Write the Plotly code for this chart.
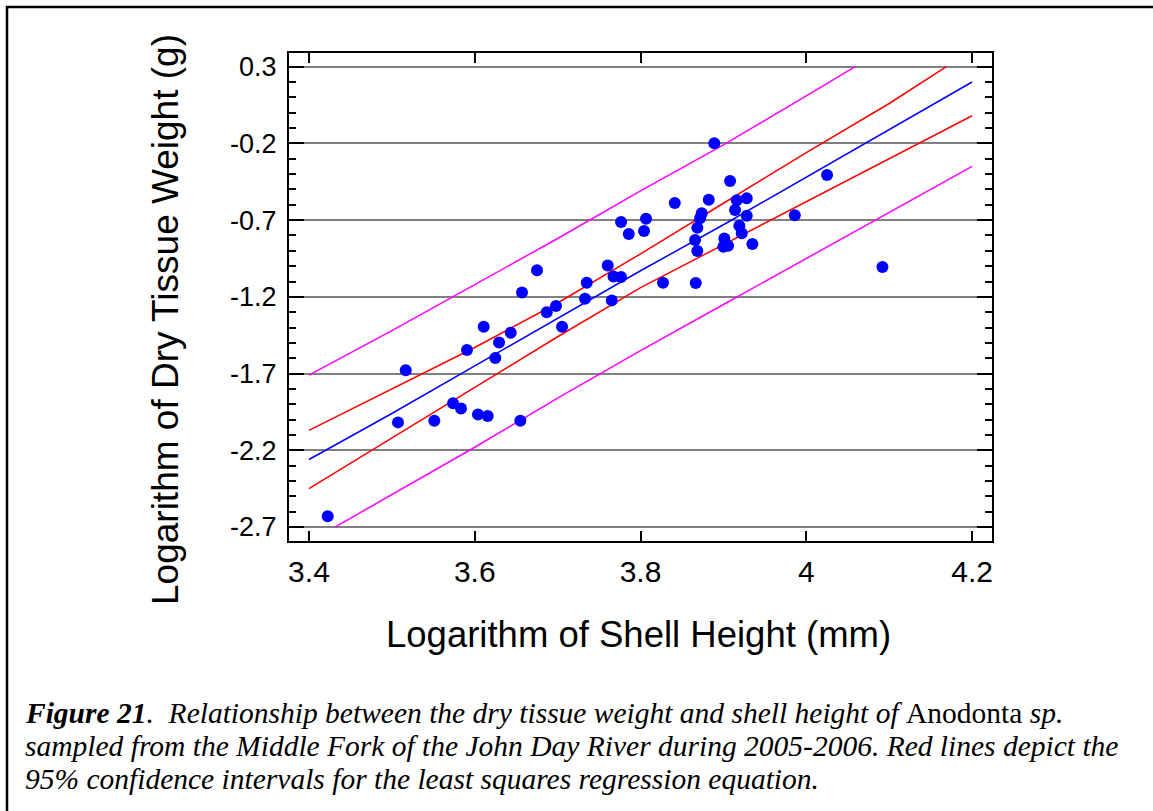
import plotly.graph_objects as go

# ---- data ----
shell_log = [3.4226, 3.5074, 3.5167, 3.5512, 3.5738, 3.5834, 3.5906, 3.6039, 3.6156, 3.6108,
             3.6248, 3.6293, 3.6434, 3.6550, 3.6570, 3.6751, 3.6868, 3.6980, 3.7053, 3.7330,
             3.7351, 3.7604, 3.7653, 3.7674, 3.7765, 3.7765, 3.7858, 3.8042, 3.8066, 3.8271,
             3.8413, 3.8658, 3.8666, 3.8685, 3.8685, 3.8718, 3.8738, 3.8823, 3.8890, 3.8999,
             3.9056, 3.9011, 3.9080, 3.9140, 3.9161, 3.9192, 3.9221, 3.9281, 3.9281, 3.9349,
             3.9861, 4.0250, 4.0918]
tissue_log = [-2.629, -2.018, -1.679, -2.008, -1.894, -1.927, -1.547, -1.966, -1.977, -1.395,
              -1.599, -1.497, -1.434, -2.008, -1.171, -1.027, -1.301, -1.260, -1.395, -1.212,
              -1.108, -0.995, -1.223, -1.068, -1.071, -0.712, -0.791, -0.771, -0.691, -1.108,
              -0.589, -0.830, -1.110, -0.750, -0.901, -0.688, -0.656, -0.567, -0.199, -0.873,
              -0.867, -0.819, -0.445, -0.634, -0.571, -0.737, -0.786, -0.558, -0.671, -0.856,
              -0.669, -0.406, -1.006]

fit_x = [3.4, 3.5, 3.6, 3.7, 3.8, 3.9, 4.0, 4.1, 4.2]
fit_y = [-2.26, -1.96, -1.65, -1.34, -1.03, -0.73, -0.42, -0.11, 0.20]

conf_up_x = [3.4, 3.5, 3.6, 3.7, 3.8, 3.9, 4.0, 4.1, 4.169]
conf_up_y = [-2.07, -1.80, -1.53, -1.24, -0.92, -0.59, -0.26, 0.06, 0.30]
conf_lo_x = [3.4, 3.5, 3.6, 3.7, 3.8, 3.9, 4.0, 4.1, 4.2]
conf_lo_y = [-2.45, -2.12, -1.79, -1.46, -1.14, -0.86, -0.58, -0.30, -0.02]

pred_up_x = [3.4, 3.5, 3.6, 3.7, 3.8, 3.9, 4.0, 4.059]
pred_up_y = [-1.71, -1.42, -1.12, -0.82, -0.51, -0.21, 0.11, 0.30]
pred_lo_x = [3.4314, 3.5, 3.6, 3.7, 3.8, 3.9, 4.0, 4.1, 4.2]
pred_lo_y = [-2.70, -2.49, -2.18, -1.86, -1.55, -1.25, -0.95, -0.65, -0.35]

x_ticks = [3.4, 3.6, 3.8, 4.0, 4.2]
x_tick_text = ["3.4", "3.6", "3.8", "4", "4.2"]
y_ticks = [0.3, -0.2, -0.7, -1.2, -1.7, -2.2, -2.7]
y_tick_text = ["0.3", "-0.2", "-0.7", "-1.2", "-1.7", "-2.2", "-2.7"]

caption_lines = [
    "<b><i>Figure 21</i></b><i>.  Relationship between the dry tissue weight and shell height of </i>Anodonta<i> sp.</i>",
    "<i>sampled from the Middle Fork of the John Day River during 2005-2006. Red lines depict the</i>",
    "<i>95% confidence intervals for the least squares regression equation.</i>",
]

# ---- figure ----
W, H = 1153, 811
L, R, T, B = 289, 992, 53, 541
pw, ph = R - L, B - T

def px(xp):
    return (xp - L) / pw

def py(yp):
    return (B - yp) / ph

fig = go.Figure()
line_w = 1.5
fig.add_trace(go.Scatter(x=pred_up_x, y=pred_up_y, mode="lines", line=dict(color="#FF00FF", width=line_w)))
fig.add_trace(go.Scatter(x=pred_lo_x, y=pred_lo_y, mode="lines", line=dict(color="#FF00FF", width=line_w)))
fig.add_trace(go.Scatter(x=conf_up_x, y=conf_up_y, mode="lines", line=dict(color="#FF0000", width=line_w)))
fig.add_trace(go.Scatter(x=conf_lo_x, y=conf_lo_y, mode="lines", line=dict(color="#FF0000", width=line_w)))
fig.add_trace(go.Scatter(x=fit_x, y=fit_y, mode="lines", line=dict(color="#0000FF", width=line_w)))
fig.add_trace(go.Scatter(x=shell_log, y=tissue_log, mode="markers",
                         marker=dict(color="#0000FF", size=12, line=dict(width=0))))

xtick_font = dict(family="Liberation Sans, Arial", size=30, color="black")
ytick_font = dict(family="Liberation Sans, Arial", size=27, color="black")
fig.update_layout(
    width=W, height=H,
    margin=dict(l=L, r=W - R, t=T, b=H - B, pad=0),
    paper_bgcolor="white", plot_bgcolor="white",
    showlegend=False,
    xaxis=dict(range=[3.3759, 4.224], tickvals=x_ticks, ticktext=x_tick_text,
               ticks="inside", ticklen=10, tickwidth=2, tickcolor="black",
               showline=True, linecolor="black", linewidth=2, mirror="ticks",
               showgrid=False, zeroline=False, tickfont=xtick_font, ticklabelstandoff=3),
    yaxis=dict(range=[-2.791, 0.389], tickvals=y_ticks, ticktext=y_tick_text,
               ticks="inside", ticklen=15, tickwidth=2, tickcolor="black",
               showline=True, linecolor="black", linewidth=2, mirror="ticks",
               showgrid=True, gridcolor="#808080", gridwidth=2, zeroline=False,
               tickfont=ytick_font, ticklabelstandoff=5,
               minor=dict(ticks="inside", ticklen=7, tickwidth=2, tickcolor="black",
                          tick0=0.3, dtick=0.1, showgrid=False)),
)

annotations = [
    dict(text="Logarithm of Shell Height (mm)", xref="paper", yref="paper",
         x=px(638), y=py(634), xanchor="center", yanchor="middle", showarrow=False,
         font=dict(family="Liberation Sans, Arial", size=36.5, color="black")),
    dict(text="Logarithm of Dry Tissue Weight (g)", xref="paper", yref="paper",
         x=px(165), y=py(320), xanchor="center", yanchor="middle", textangle=-90,
         showarrow=False, font=dict(family="Liberation Sans, Arial", size=37, color="black")),
]
cap_font = dict(family="Liberation Serif, Times New Roman", size=29.5, color="black")
for i, (line, yc) in enumerate(zip(caption_lines, [713, 746, 779])):
    annotations.append(dict(text=line, xref="paper", yref="paper", x=px(23), y=py(yc),
                            xanchor="left", yanchor="middle", showarrow=False, font=cap_font))
fig.update_layout(annotations=annotations)

# outer frame (left and top sides)
fig.add_shape(type="line", xref="paper", yref="paper", x0=px(7), x1=px(7), y0=py(6), y1=py(815),
              line=dict(color="black", width=2.5))
fig.add_shape(type="line", xref="paper", yref="paper", x0=px(6), x1=px(1160), y0=py(7), y1=py(7),
              line=dict(color="black", width=2.5))

fig.write_html("out.html")
